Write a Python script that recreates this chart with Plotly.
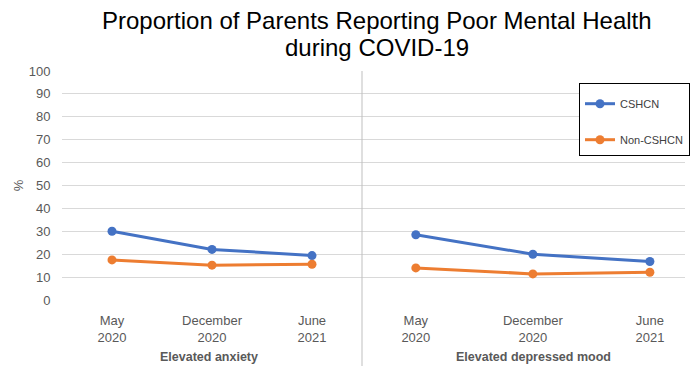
import plotly.graph_objects as go
from plotly.subplots import make_subplots

periods = ["May<br>2020", "December<br>2020", "June<br>2021"]
groups = ["Elevated anxiety", "Elevated depressed mood"]
series_names = ["CSHCN", "Non-CSHCN"]
title_lines = ["Proportion of Parents Reporting Poor Mental Health", "during COVID-19"]
anxiety_cshcn = [30.0, 22.1, 19.4]
anxiety_non = [17.5, 15.2, 15.6]
mood_cshcn = [28.5, 20.0, 16.8]
mood_non = [14.0, 11.4, 12.1]
colors = ["#4472C4", "#ED7D31"]

W, H = 696, 366
L, R, T, B = 62, 11, 71, 66
sep_px = 362
PH = H - T - B
pw = W - L - R


def py(p):
    return (H - B - p) / PH


def px(p):
    return (p - L) / pw


fig = make_subplots(rows=1, cols=2, shared_yaxes=True, horizontal_spacing=0)
data = [[anxiety_cshcn, anxiety_non], [mood_cshcn, mood_non]]
for g in range(2):
    for s in range(2):
        fig.add_trace(go.Scatter(
            x=periods, y=data[g][s], name=series_names[s], mode="lines+markers",
            line=dict(color=colors[s], width=3), marker=dict(size=9, color=colors[s]),
            legendgroup=series_names[s], showlegend=(g == 0)), row=1, col=g + 1)

d1 = px(sep_px)
fig.update_layout(
    width=W, height=H, margin=dict(l=L, r=R, t=T, b=B, autoexpand=False),
    paper_bgcolor="white", plot_bgcolor="white",
    font=dict(family="Liberation Sans, Arial", color="#595959", size=13),
    legend=dict(x=px(690), y=py(83), xanchor="right", yanchor="top",
                bordercolor="#000000", borderwidth=1, bgcolor="white",
                font=dict(size=11, color="#404040"), tracegroupgap=17,
                traceorder="grouped", itemwidth=30,
                title=dict(text=" ", font=dict(size=4))),
    xaxis=dict(domain=[0, d1], range=[-0.5, 2.5], showgrid=False, ticks="", showline=False,
               tickfont=dict(size=13, color="#595959"), ticklabelstandoff=11),
    xaxis2=dict(domain=[d1, 1], range=[-0.46, 2.3], showgrid=False, ticks="", showline=False,
                tickfont=dict(size=13, color="#595959"), ticklabelstandoff=11),
    yaxis=dict(range=[0, 100], dtick=10, gridcolor="#D9D9D9", gridwidth=1, zeroline=False,
               showline=False, ticks="outside", ticklen=8, tickcolor="white",
               title=dict(text="%", font=dict(size=13, color="#595959"), standoff=2)),
    yaxis2=dict(range=[0, 100], dtick=10, gridcolor="#D9D9D9", gridwidth=1, zeroline=False,
                showline=False),
)

fig.add_shape(type="line", xref="paper", yref="paper", x0=d1, x1=d1, y0=1.0,
              y1=py(H), line=dict(color="#BFBFBF", width=1))

for line, ymid in zip(title_lines, [21, 47.5]):
    fig.add_annotation(text=line, x=px(377), y=py(ymid), xref="paper", yref="paper",
                       showarrow=False, xanchor="center", yanchor="middle",
                       font=dict(size=24, color="#000000", family="Liberation Sans, Arial"))

centers = [px(209), px(533)]
for c, gname in zip(centers, groups):
    fig.add_annotation(text="<b>" + gname + "</b>", x=c, y=py(357),
                       xref="paper", yref="paper", showarrow=False,
                       xanchor="center", yanchor="middle",
                       font=dict(size=12.5, color="#595959"))

fig.write_html("out.html")
